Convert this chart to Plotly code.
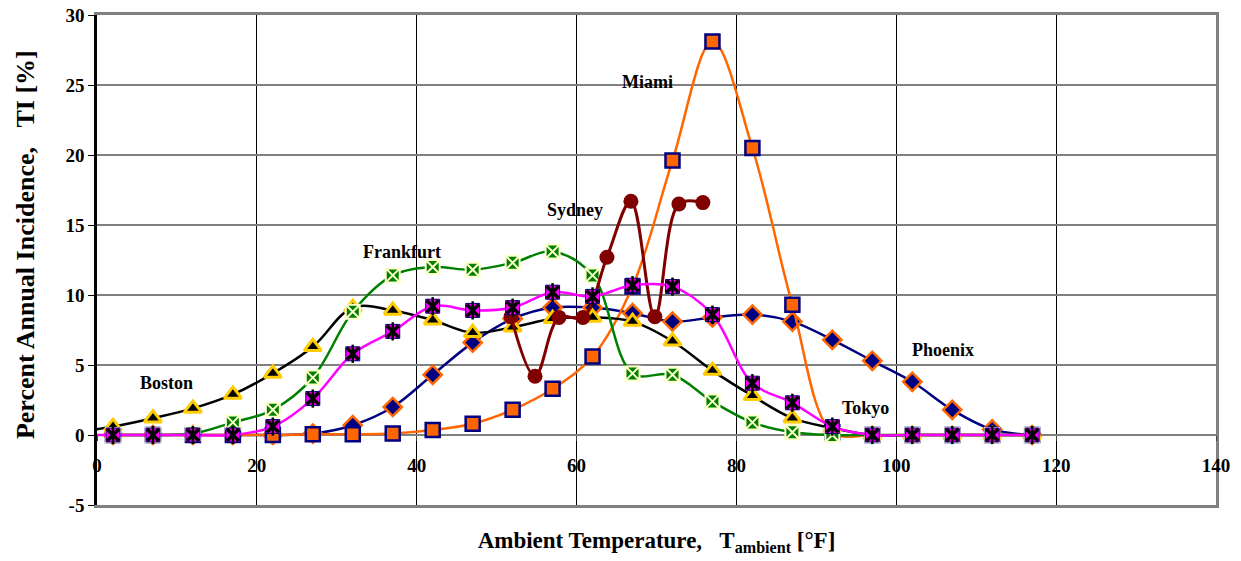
import plotly.graph_objects as go

temps = [2, 7, 12, 17, 22, 27, 32, 37, 42, 47, 52, 57, 62, 67, 72, 77, 82, 87, 92, 97, 102, 107, 112, 117]
temps_ext = [-3] + temps

boston = [0.15, 0.6, 1.2, 1.9, 2.9, 4.4, 6.3, 9.1, 8.9, 8.2, 7.3, 7.7, 8.3, 8.4, 8.1, 6.7, 4.6, 2.8, 1.2, 0.5, 0, 0, 0, 0, 0]
frankfurt = [0, 0, 0.1, 0.9, 1.8, 4.1, 8.8, 11.4, 12.0, 11.8, 12.3, 13.1, 11.4, 4.4, 4.3, 2.4, 0.9, 0.2, 0, 0, 0, 0, 0, 0]
tokyo = [0, 0, 0, 0, 0, 0.6, 2.6, 5.8, 7.4, 9.2, 8.9, 9.1, 10.2, 9.9, 10.7, 10.6, 8.6, 3.7, 2.3, 0.6, 0, 0, 0, 0, 0]
phoenix = [0, 0, 0, 0, 0, 0.1, 0.7, 2.0, 4.3, 6.6, 8.3, 9.1, 9.1, 8.7, 8.1, 8.4, 8.6, 8.1, 6.8, 5.3, 3.8, 1.8, 0.4, 0]
miami = [0, 0, 0, 0, 0, 0.05, 0.05, 0.1, 0.35, 0.8, 1.8, 3.3, 5.6, 10.6, 19.6, 28.1, 20.5, 9.3, 0.2, 0, 0, 0, 0, 0]
sydney_x = [51.8, 54.8, 57.8, 60.8, 63.8, 66.8, 69.8, 72.8, 75.8]
sydney = [8.45, 4.2, 8.4, 8.4, 12.7, 16.7, 8.45, 16.5, 16.6]

labels = ["Boston", "Frankfurt", "Sydney", "Miami", "Phoenix", "Tokyo"]
label_x = [8.7, 38.1, 59.8, 68.9, 105.9, 96.1]
label_y = [3.7, 13.1, 16.1, 25.2, 6.1, 1.9]

x_ticks = [0, 20, 40, 60, 80, 100, 120, 140]
y_ticks = [-5, 0, 5, 10, 15, 20, 25, 30]

FONT = "Liberation Serif, Times New Roman, serif"

fig = go.Figure()

fig.add_trace(go.Scatter(x=temps, y=phoenix, mode="lines+markers", line=dict(color="#000080", width=2.5, shape="spline", smoothing=1),
                         marker=dict(symbol="diamond", size=14, color="#000080", line=dict(color="#FF6600", width=2.5)), name="Phoenix"))
fig.add_trace(go.Scatter(x=temps, y=miami, mode="lines+markers", line=dict(color="#FF6600", width=2.5, shape="spline", smoothing=1),
                         marker=dict(symbol="square", size=14, color="#FF6600", line=dict(color="#000080", width=2.5)), name="Miami"))
fig.add_trace(go.Scatter(x=temps_ext, y=boston, mode="lines+markers", line=dict(color="#000000", width=2.5, shape="spline", smoothing=1),
                         marker=dict(symbol="triangle-up", size=15, color="#000000", line=dict(color="#FFCC00", width=3)), name="Boston"))
fig.add_trace(go.Scatter(x=temps, y=frankfurt, mode="lines+markers", line=dict(color="#008000", width=2.5, shape="spline", smoothing=1),
                         marker=dict(symbol="square-x", size=14, color="#008000", line=dict(color="#FFFFCC", width=2)), name="Frankfurt"))
fig.add_trace(go.Scatter(x=sydney_x, y=sydney, mode="lines+markers", line=dict(color="#800000", width=3, shape="spline", smoothing=1),
                         marker=dict(symbol="circle", size=15, color="#800000"), name="Sydney"))
fig.add_trace(go.Scatter(x=temps_ext, y=tokyo, mode="lines+markers", line=dict(color="#FF00FF", width=2.5, shape="spline", smoothing=1),
                         marker=dict(symbol="square", size=14, color="#FF00FF", line=dict(color="#000080", width=1)), name="Tokyo"))
fig.add_trace(go.Scatter(x=temps_ext, y=tokyo, mode="markers", hoverinfo="skip",
                         marker=dict(symbol="x-thin-open", size=12, color="#000000", line=dict(color="#000000", width=3.5))))
fig.add_trace(go.Scatter(x=temps_ext, y=tokyo, mode="markers", hoverinfo="skip",
                         marker=dict(symbol="line-ns-open", size=13, color="#000000", line=dict(color="#000000", width=2.5))))

# helper traces so the overlay axes are drawn
fig.add_trace(go.Scatter(x=[x_ticks[0], x_ticks[-1]], y=[0, 0], xaxis="x2", yaxis="y", mode="markers",
                         marker=dict(opacity=0), hoverinfo="skip"))
fig.add_trace(go.Scatter(x=[x_ticks[0]], y=[0], xaxis="x", yaxis="y2", mode="markers",
                         marker=dict(opacity=0), hoverinfo="skip"))

for t, lx, ly in zip(labels, label_x, label_y):
    fig.add_annotation(x=lx, y=ly, text="<b>%s</b>" % t, showarrow=False,
                       font=dict(family=FONT, size=18, color="#000000"))

# y-axis title
fig.add_annotation(xref="paper", yref="paper", x=-0.0643, y=0.5306, xanchor="center", yanchor="middle",
                   textangle=-90, showarrow=False,
                   text="<b>Percent Annual Incidence,\u00a0\u00a0\u00a0TI [%]</b>",
                   font=dict(family=FONT, size=26, color="#000000"))

fig.update_layout(
    width=1241, height=561,
    margin=dict(l=97, r=25, t=15, b=56),
    paper_bgcolor="white", plot_bgcolor="white",
    showlegend=False,
    font=dict(family=FONT, color="#000000"),
    xaxis=dict(range=[0, 140], tickvals=x_ticks, showticklabels=False, ticks="", automargin=False,
               showgrid=True, gridcolor="#000000", gridwidth=1, zeroline=False,
               showline=True, linecolor="#808080", linewidth=2.5, mirror=True,
               title=dict(text="<b>Ambient Temperature,\u00a0\u00a0\u00a0T<sub>ambient</sub> [°F]</b>",
                          font=dict(family=FONT, size=23), standoff=26)),
    xaxis2=dict(range=[0, 140], tickvals=x_ticks, ticktext=["<b>%d</b>" % v for v in x_ticks],
                overlaying="x", anchor="free", position=5 / 35, side="bottom", automargin=False,
                ticks="outside", ticklen=5, tickcolor="#404040", showgrid=False, zeroline=False, showline=False,
                ticklabelstandoff=8, tickfont=dict(family=FONT, size=19)),
    yaxis=dict(range=[-5, 30], tickvals=y_ticks, ticktext=["<b>%d</b>" % v for v in y_ticks], automargin=False,
               ticks="outside", ticklen=6, tickcolor="#000000", tickfont=dict(family=FONT, size=19),
               showgrid=True, gridcolor="#808080", gridwidth=1.5, zeroline=False,
               showline=True, linecolor="#000000", linewidth=2.5),
    yaxis2=dict(range=[-5, 30], overlaying="y", side="right", showgrid=False, zeroline=False, automargin=False,
                showticklabels=False, ticks="", showline=True, linecolor="#808080", linewidth=2.5),
)

fig.write_html("out.html")
